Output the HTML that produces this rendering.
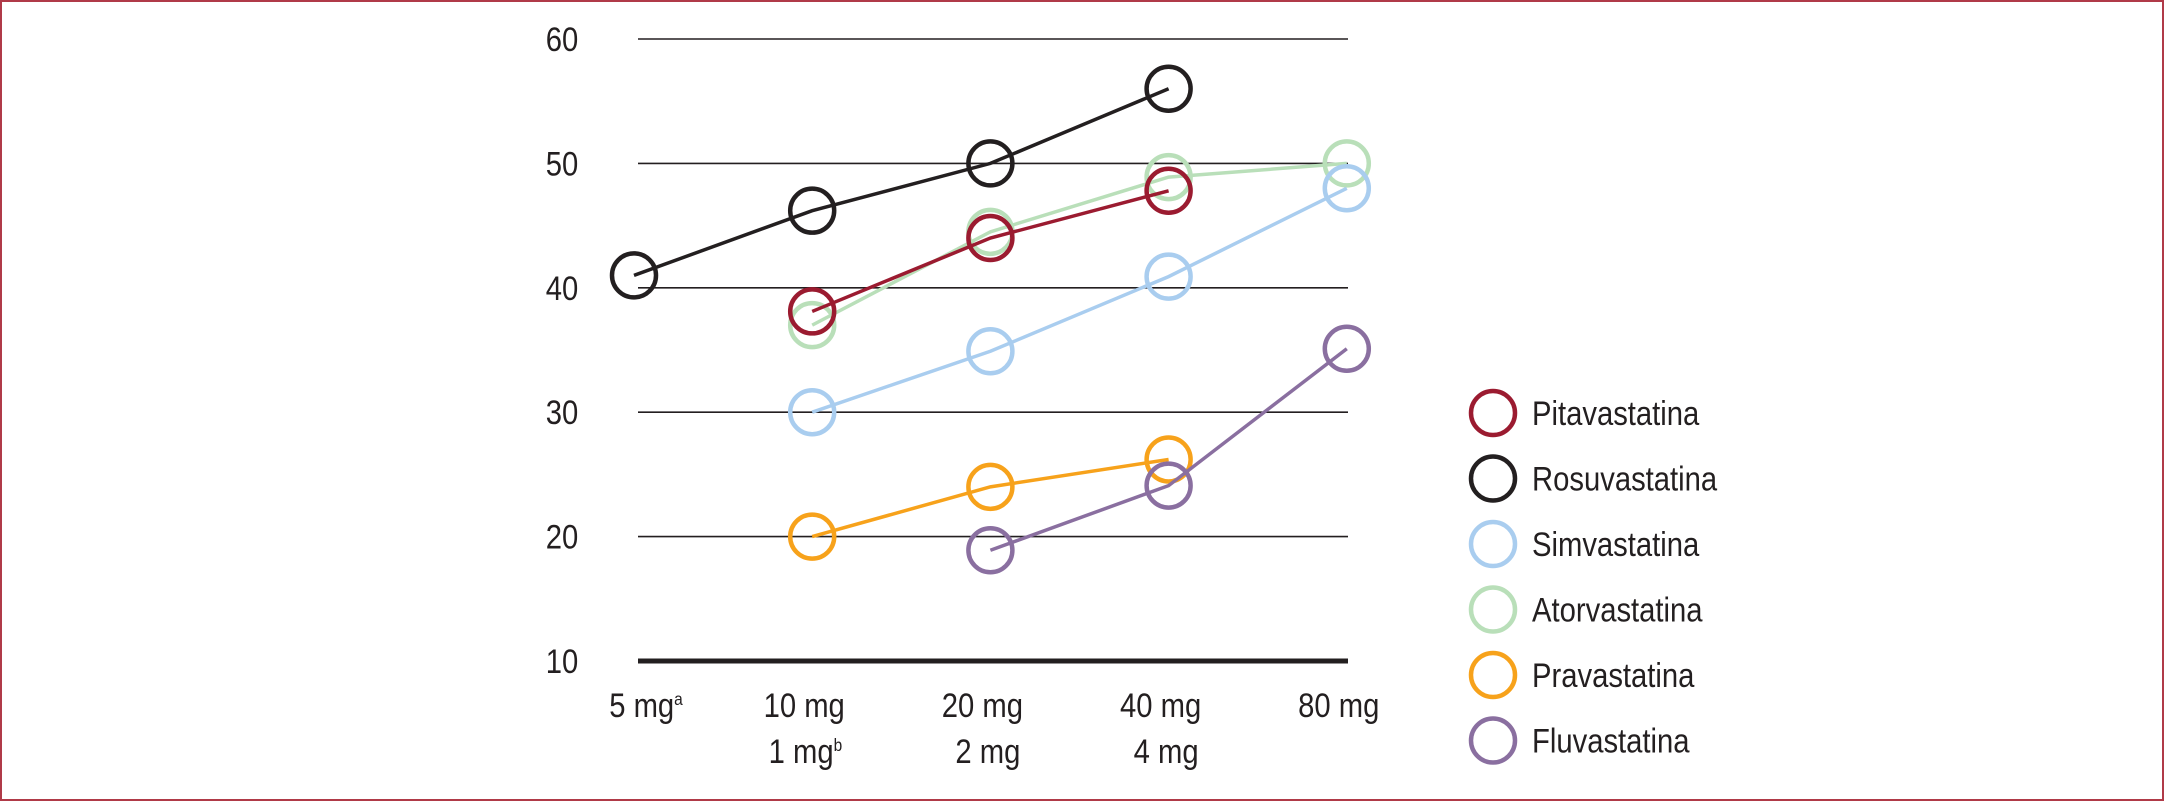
<!DOCTYPE html>
<html><head><meta charset="utf-8"><style>
html,body{margin:0;padding:0;background:#fff}
svg{display:block}
text{font-family:"Liberation Sans",sans-serif;fill:#231f20}
</style></head><body>
<svg id="chart" width="2164" height="801" viewBox="0 0 2164 801" xmlns="http://www.w3.org/2000/svg">
<rect x="1" y="1" width="2162" height="799" fill="none" stroke="#b03a48" stroke-width="2"/>
<g id="grid"></g><g id="series"></g><g id="labels"></g><g id="legend"></g>
</svg>
<script>
const yTicks = [10,20,30,40,50,60];
const xRow1 = ["5 mg","10 mg","20 mg","40 mg","80 mg"];
const xRow1Sup = ["a","","","",""];
const xRow2 = ["","1 mg","2 mg","4 mg",""];
const xRow2Sup = ["","b","","",""];
const seriesNames = ["Pitavastatina","Rosuvastatina","Simvastatina","Atorvastatina","Pravastatina","Fluvastatina"];
const seriesColors = ["#9b1b30","#231f20","#a9cdef","#b9dfb9","#f7a21b","#8a6fa0"];
const pitaVals = [null,38.1,44,47.8,null];
const rosuVals = [41,46.2,50,56,null];
const simvaVals = [null,30,34.9,40.9,48];
const atorVals = [null,37,44.5,48.9,50];
const pravaVals = [null,20,24,26.2,null];
const fluvaVals = [null,null,18.9,24.1,35.1];
const allVals = [pitaVals,rosuVals,simvaVals,atorVals,pravaVals,fluvaVals];
const drawOrder = [1,3,2,0,4,5];

const NS="http://www.w3.org/2000/svg";
const x0=634, dx=178.2, y10=661, pxPer=12.44;
const xS=i=>x0+i*dx;
const yS=v=>y10-(v-10)*pxPer;
const FS=34, SX=0.86;
const lblShift=[12,-8,-8,-8,-8];
function mk(tag,attrs,parent){const e=document.createElementNS(NS,tag);for(const k in attrs)e.setAttribute(k,attrs[k]);parent.appendChild(e);return e;}
const grid=document.getElementById('grid'),ser=document.getElementById('series'),lab=document.getElementById('labels'),leg=document.getElementById('legend');
yTicks.forEach(t=>{
  const isBase=t===10;
  const l=mk('line',{x1:638,x2:1348,y1:yS(t),y2:yS(t),stroke:'#231f20','stroke-width':isBase?5:1.6},grid);
  
  
  const tx=mk('text',{x:562,y:yS(t)+12,'font-size':FS,'text-anchor':'middle',transform:`translate(562 0) scale(${SX} 1) translate(-562 0)`},lab);
  tx.textContent=t;
  
  
});
xRow1.forEach((s,i)=>{
  const cx=xS(i)+lblShift[i];
  const t=mk('text',{x:cx,y:717,'font-size':FS,'text-anchor':'middle',transform:`translate(${cx} 0) scale(${SX} 1) translate(${-cx} 0)`},lab);
  t.textContent=s;
  if(xRow1Sup[i]){const sp=mk('tspan',{'font-size':18,dy:-12},t);sp.textContent=xRow1Sup[i];}
  
  
  if(xRow2[i]){
    const ex=xS(i)+30;
    const t2=mk('text',{x:ex,y:763,'font-size':FS,'text-anchor':'end',transform:`translate(${ex} 0) scale(${SX} 1) translate(${-ex} 0)`},lab);
    t2.textContent=xRow2[i];
    if(xRow2Sup[i]){const sp=mk('tspan',{'font-size':18,dy:-12},t2);sp.textContent=xRow2Sup[i];}
    
    
  }
});
drawOrder.forEach(si=>{
  const vals=allVals[si],col=seriesColors[si];
  const g=mk('g',{},ser);
  
  
  const pts=[];vals.forEach((v,i)=>{if(v!=null)pts.push(xS(i)+','+yS(v));});
  const pl=mk('polyline',{points:pts.join(' '),fill:'none',stroke:col,'stroke-width':3.5},g);
  
  
  vals.forEach((v,i)=>{if(v==null)return;
    const c=mk('circle',{cx:xS(i),cy:yS(v),r:22,fill:'none',stroke:col,'stroke-width':4.5},g);
    
    
  });
});
seriesNames.forEach((n,i)=>{
  const y=413+i*65.5;
  const g=mk('g',{},leg);
  
  
  mk('circle',{cx:1493,cy:y,r:22,fill:'none',stroke:seriesColors[i],'stroke-width':4.5},g);
  const t=mk('text',{x:1532,y:y+12,'font-size':FS,transform:`translate(1532 0) scale(${SX} 1) translate(-1532 0)`},g);
  t.textContent=n;
});
</script>
</body></html>
